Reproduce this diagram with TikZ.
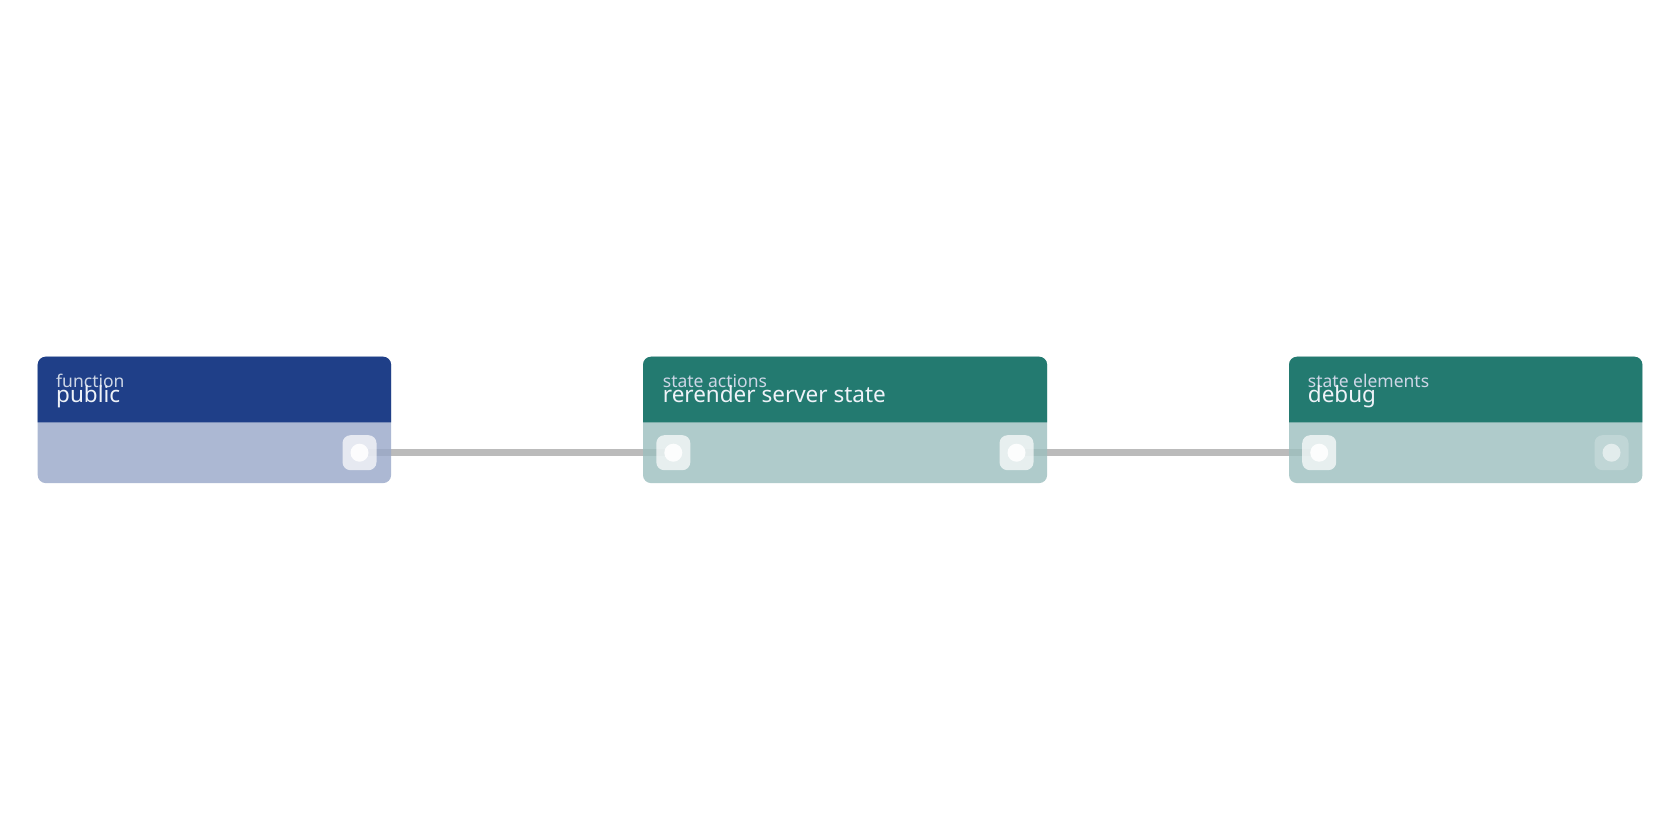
\documentclass[tikz,border=0pt]{standalone}
\usepackage{fontspec}
\setmainfont{Noto Sans}
\usetikzlibrary{backgrounds}
\definecolor{navyhead}{RGB}{31,63,136}
\definecolor{navybody}{RGB}{152,167,200}
\definecolor{tealhead}{RGB}{35,122,112}
\definecolor{tealbody}{RGB}{156,191,190}
\definecolor{wirecol}{RGB}{187,187,187}
\definecolor{smalltxt}{RGB}{205,214,230}
\definecolor{bigtxt}{RGB}{238,242,248}
\tikzset{
  boxshape/.style={minimum width=#1, minimum height=126pt, inner sep=0pt, anchor=north west, draw=none},
  porthole/.style={minimum width=34pt, minimum height=35pt, inner sep=0pt, rounded corners=8pt, fill=white, fill opacity=0.7},
  portdim/.style={minimum width=34pt, minimum height=35pt, inner sep=0pt, rounded corners=8pt, fill=white, fill opacity=0.22},
  dot/.style={circle, minimum size=18pt, inner sep=0pt, fill=white, fill opacity=0.9},
  dotdim/.style={circle, minimum size=18pt, inner sep=0pt, fill=white, fill opacity=0.55},
  wire/.style={draw=wirecol, line width=7.5pt},
  kind/.style={anchor=base west, inner sep=0pt, text=smalltxt, font=\fontsize{17.5}{17.5}\selectfont},
  title/.style={anchor=base west, inner sep=0pt, text=bigtxt, font=\fontsize{22.5}{22.5}\selectfont},
}
\newcommand\flowbox[5]{% name, x, width, head, body
  \node[boxshape=#3] (#1) at (#2,356.7) {};
  \fill[#5, fill opacity=0.8, rounded corners=8pt] (#1.north west) rectangle (#1.south east);
  \fill[#4] (#1.west |- 0,422.3) {[rounded corners=8pt] -- (#1.north west) -- (#1.north east)} -- (#1.east |- 0,422.3) -- cycle;
}
\begin{document}
\begin{tikzpicture}[x=1pt,y=-1pt]
\useasboundingbox (0,0) rectangle (1680,840);
% boxes
\flowbox{fn}{37.7}{353}{navyhead}{navybody}
\flowbox{sa}{643}{403.7}{tealhead}{tealbody}
\flowbox{se}{1289}{353}{tealhead}{tealbody}
% texts
\node[kind] (fnk) at (56,387) {function};
\node[title] (fnt) at (56,402.7) {public};
\node[kind] (sak) at (662.7,387) {state actions};
\node[title] (sat) at (662.7,402.7) {rerender server state};
\node[kind] (sek) at (1307.7,387) {state elements};
\node[title] (set) at (1307.7,402.7) {debug};
% ports
\node[porthole] (fnout) at (359.5,452.7) {};
\node[dot] at (fnout.center) {};
\node[porthole] (sain) at (673.3,452.7) {};
\node[dot] at (sain.center) {};
\node[porthole] (saout) at (1016.5,452.7) {};
\node[dot] at (saout.center) {};
\node[porthole] (sein) at (1319.2,452.7) {};
\node[dot] at (sein.center) {};
\node[portdim] (seout) at (1611.5,452.7) {};
\node[dotdim] at (seout.center) {};
% wires
\begin{scope}[on background layer]
\fill[white] (0,0) rectangle (1680,840);
\draw[wire] (fnout.center) -- (sain.center);
\draw[wire] (saout.center) -- (sein.center);
\end{scope}
\end{tikzpicture}
\end{document}
